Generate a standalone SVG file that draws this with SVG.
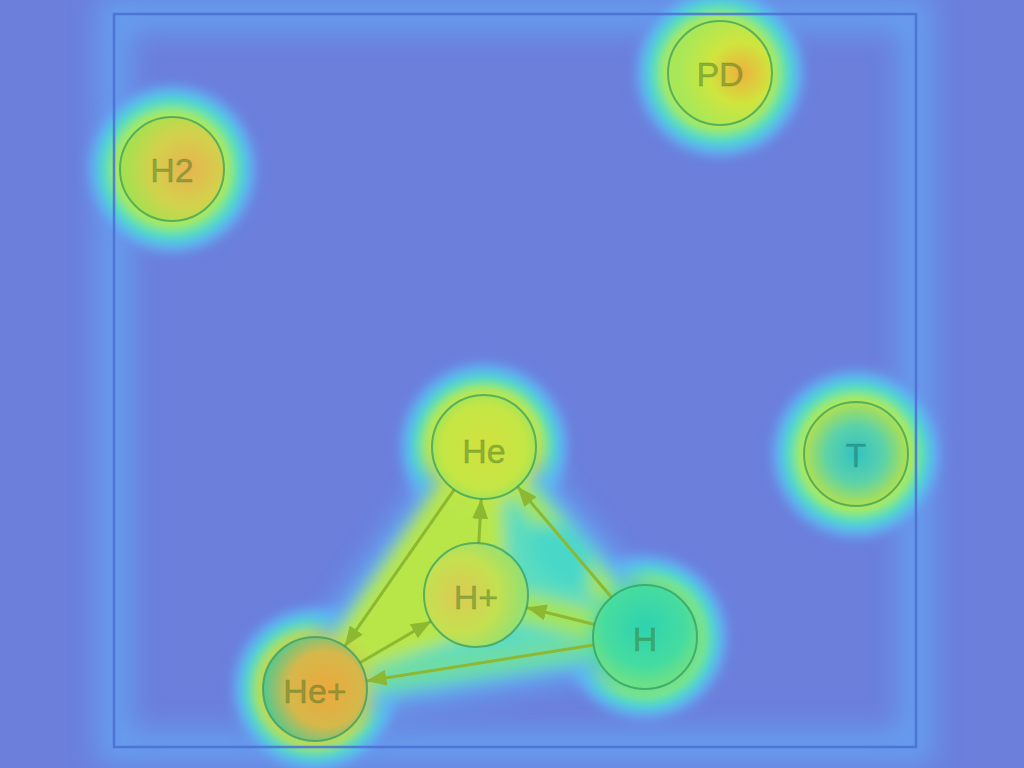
<svg xmlns="http://www.w3.org/2000/svg" width="1024" height="768" viewBox="0 0 1024 768">
<style>
.node-ring{stroke:#2e9a62;stroke-opacity:.7;stroke-width:2}
.label{font-family:"Liberation Sans",Arial,sans-serif;font-size:34px;text-anchor:middle;dominant-baseline:central;fill:#3a7020;fill-opacity:.45;stroke:#3a7020;stroke-opacity:.25;stroke-width:.8}
.edge{stroke:#8cb832;stroke-width:3;fill:none}
.halo{fill:url(#halo)}
</style>
<defs>
<filter id="blur8" x="-50%" y="-50%" width="200%" height="200%"><feGaussianBlur stdDeviation="8"/></filter>
<filter id="blur14" x="-50%" y="-50%" width="200%" height="200%"><feGaussianBlur stdDeviation="14"/></filter>
<filter id="blur5" x="-20%" y="-20%" width="140%" height="140%"><feGaussianBlur stdDeviation="5"/></filter>
<radialGradient id="halo" cx="0.5" cy="0.5" r="0.5">
<stop offset="0" stop-color="#b8e24a"/>
<stop offset="0.58" stop-color="#b8e84a"/>
<stop offset="0.66" stop-color="#7ae88a"/>
<stop offset="0.75" stop-color="#48d8d0"/>
<stop offset="0.86" stop-color="#62acf6"/>
<stop offset="1" stop-color="#6b7fdb" stop-opacity="0"/>
</radialGradient>
<radialGradient id="gHe" cx="0.5" cy="0.5" r="0.5"><stop offset="0" stop-color="#d2e23e"/><stop offset="0.8" stop-color="#c4e645"/><stop offset="1" stop-color="#a8e455"/></radialGradient>
<radialGradient id="gHp" cx="0.35" cy="0.5" r="0.6"><stop offset="0" stop-color="#dccb52"/><stop offset="0.6" stop-color="#c4e050"/><stop offset="1" stop-color="#98e070"/></radialGradient>
<radialGradient id="gHep" cx="0.6" cy="0.5" r="0.6"><stop offset="0" stop-color="#eca83c"/><stop offset="0.6" stop-color="#d6b84a"/><stop offset="1" stop-color="#50c890"/></radialGradient>
<radialGradient id="gH" cx="0.5" cy="0.4" r="0.55"><stop offset="0" stop-color="#2ed2b0"/><stop offset="0.7" stop-color="#46dca0"/><stop offset="1" stop-color="#6ae088"/></radialGradient>
<radialGradient id="gH2" cx="0.65" cy="0.5" r="0.6"><stop offset="0" stop-color="#e8b450"/><stop offset="0.6" stop-color="#d2d24c"/><stop offset="1" stop-color="#a6e050"/></radialGradient>
<radialGradient id="gPD" cx="0.7" cy="0.5" r="0.6"><stop offset="0" stop-color="#eeb03c"/><stop offset="0.5" stop-color="#cfe53e"/><stop offset="1" stop-color="#a8e858"/></radialGradient>
<radialGradient id="gT" cx="0.5" cy="0.5" r="0.5"><stop offset="0" stop-color="#34c2c4"/><stop offset="0.55" stop-color="#5cd2a8"/><stop offset="1" stop-color="#b0e050"/></radialGradient>
<marker id="arrow" markerUnits="userSpaceOnUse" markerWidth="22" markerHeight="16" refX="20" refY="8" orient="auto"><path d="M0,0 L20,8 L0,16 z" fill="#8cb832"/></marker>
</defs>

<rect x="0" y="0" width="1024" height="768" fill="#6b7fdb"/>

<g id="heat">
<rect x="114" y="14" width="802" height="733" fill="none" stroke="#62aaf8" stroke-width="34" stroke-opacity=".7" filter="url(#blur14)"/>
<g filter="url(#blur5)">
<circle class="halo" cx="720" cy="73" r="92"/>
<circle class="halo" cx="172" cy="169" r="92"/>
<circle class="halo" cx="856" cy="454" r="92"/>
<circle class="halo" cx="484" cy="447" r="92"/>
<circle class="halo" cx="645" cy="637" r="90"/>
<circle class="halo" cx="315" cy="689" r="90"/>
</g>
<g filter="url(#blur14)">
<polygon points="484,447 315,689 645,637" fill="#62acf6" stroke="#62acf6" stroke-width="60" stroke-linejoin="round"/>
</g>
<g filter="url(#blur8)">
<polygon points="484,447 315,689 645,637" fill="#5cdcc0" stroke="#5cdcc0" stroke-width="34" stroke-linejoin="round"/>
<polygon points="484,447 340,660 490,610" fill="#b8e64a" stroke="#b8e64a" stroke-width="34" stroke-linejoin="round"/>
<line x1="476" y1="595" x2="645" y2="637" stroke="#a4e458" stroke-width="30"/>
<line x1="315" y1="689" x2="645" y2="637" stroke="#72dca0" stroke-width="20"/>
<line x1="484" y1="447" x2="620" y2="610" stroke="#a4e458" stroke-width="22"/>
<ellipse cx="560" cy="556" rx="24" ry="38" fill="#48d8c8" transform="rotate(-40 560 556)"/>
<circle cx="484" cy="447" r="56" fill="#c4e645"/>
<circle cx="645" cy="637" r="56" fill="#50dca0"/>
<circle cx="315" cy="689" r="56" fill="#c8d050"/>
</g>
</g>

<rect id="frame" x="114" y="14" width="802" height="733" fill="none" stroke="#4a6fd2" stroke-width="2.5" stroke-opacity=".85"/>

<g id="connectors">
<line class="edge" x1="454.2" y1="489.6" x2="344.8" y2="646.4" marker-end="url(#arrow)"/>
<line class="edge" x1="478.8" y1="543.1" x2="481.2" y2="498.9" marker-end="url(#arrow)"/>
<line class="edge" x1="611.4" y1="597.3" x2="517.6" y2="486.7" marker-end="url(#arrow)"/>
<line class="edge" x1="359.9" y1="662.8" x2="431.1" y2="621.2" marker-end="url(#arrow)"/>
<line class="edge" x1="594.5" y1="624.5" x2="526.5" y2="607.5" marker-end="url(#arrow)"/>
<line class="edge" x1="593.6" y1="645.1" x2="366.4" y2="680.9" marker-end="url(#arrow)" stroke="#4ab0a0"/>
</g>

<g id="node-PD"><circle class="node-ring" cx="720" cy="73" r="52" fill="url(#gPD)"/><text class="label" x="720" y="74">PD</text></g>
<g id="node-H2"><circle class="node-ring" cx="172" cy="169" r="52" fill="url(#gH2)"/><text class="label" x="172" y="170">H2</text></g>
<g id="node-T"><circle class="node-ring" cx="856" cy="454" r="52" fill="url(#gT)"/><text class="label" x="856" y="455" style="fill:#1a8a80;fill-opacity:.7;stroke:#1a8a80">T</text></g>
<g id="node-He"><circle class="node-ring" cx="484" cy="447" r="52" fill="url(#gHe)"/><text class="label" x="484" y="451">He</text></g>
<g id="node-Hplus"><circle class="node-ring" cx="476" cy="595" r="52" fill="url(#gHp)"/><text class="label" x="476" y="597">H+</text></g>
<g id="node-H"><circle class="node-ring" cx="645" cy="637" r="52" fill="url(#gH)"/><text class="label" x="645" y="639">H</text></g>
<g id="node-Heplus"><circle class="node-ring" cx="315" cy="689" r="52" fill="url(#gHep)"/><text class="label" x="315" y="691">He+</text></g>
</svg>
